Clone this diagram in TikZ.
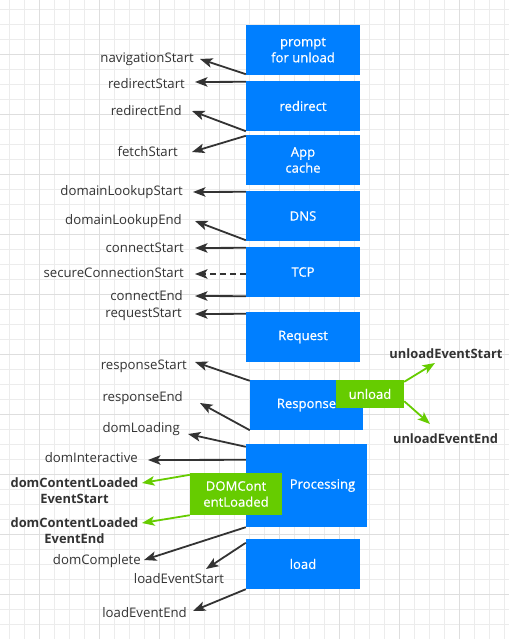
\documentclass[tikz,border=0pt]{standalone}
\usepackage{fontspec}
\setmainfont{Open Sans}
\newfontfamily\boxfont[FakeBold=0.6]{Open Sans}
\usetikzlibrary{arrows.meta,calc}
\definecolor{boxblue}{RGB}{0,127,255}
\definecolor{boxgreen}{RGB}{102,204,0}
\definecolor{arrgray}{RGB}{51,51,51}
\definecolor{txtgray}{RGB}{51,51,51}
\definecolor{gridminor}{RGB}{236,236,236}
\definecolor{gridmajor}{RGB}{222,222,222}
\tikzset{
  phase/.style={fill=boxblue, draw=none, text=white, font=\boxfont\fontsize{13.1}{16}\selectfont,
    align=center, inner sep=0pt, minimum width=114pt, minimum height=50pt},
  gphase/.style={fill=boxgreen, draw=none, text=white, font=\boxfont\fontsize{13.1}{16}\selectfont,
    align=center, inner sep=0pt},
  lbl/.style={font=\fontsize{13.2}{15}\selectfont, text=txtgray, inner sep=0pt, anchor=east},
  blbl/.style={font=\bfseries\fontsize{12.9}{16}\selectfont, text=txtgray, inner sep=0pt, align=center},
  arr/.style={draw=arrgray, line width=1.8pt, -{Stealth[length=12.5pt,width=9.5pt,inset=3pt]}},
  garr/.style={draw=boxgreen, line width=1.8pt, -{Stealth[length=12.5pt,width=9.5pt,inset=3pt]}},
}
\begin{document}
\begin{tikzpicture}[x=1pt,y=-1pt]
\useasboundingbox (0,0) rectangle (509,639);
\fill[white] (0,0) rectangle (509,639);
% grid
\foreach \i in {0,...,33} {
  \pgfmathsetmacro\xx{9.3+15*\i}
  \draw[gridminor, line width=0.8pt] (\xx,0) -- (\xx,639);
}
\foreach \i in {0,...,42} {
  \pgfmathsetmacro\yy{9.3+15*\i}
  \draw[gridminor, line width=0.8pt] (0,\yy) -- (509,\yy);
}
\foreach \i in {0,...,7} {
  \pgfmathsetmacro\xx{39.3+60*\i}
  \draw[gridmajor, line width=0.9pt] (\xx,0) -- (\xx,639);
}
\foreach \i in {0,...,9} {
  \pgfmathsetmacro\yy{54.3+60*\i}
  \draw[gridmajor, line width=0.9pt] (0,\yy) -- (509,\yy);
}
% phases
\node[phase] (prompt) at (303,50) {prompt\\for unload};
\node[phase] (redirect) at (303,106) {redirect};
\node[phase] (appcache) at (303,160) {App\\cache};
\node[phase] (dns) at (303,216) {DNS};
\node[phase] (tcp) at (303,272) {TCP};
\node[phase] (request) at (303,337) {Request};
\node[phase, minimum width=113pt] (response) at (306.5,405) {Response};
\node[phase, minimum width=121pt, minimum height=83pt] (processing) at (306.5,485.5) {\hspace*{32pt}Processing};
\node[phase] (load) at (303,564) {load};
\node[gphase, minimum width=68pt, minimum height=28pt] (unload) at (370,394) {unload};
\node[gphase, minimum width=92pt, minimum height=42pt] (domcl) at (236,494) {DOMCont\\entLoaded};
% labels
\node[lbl] (navStart) at (194,59) {navigationStart};
\node[lbl] (redStart) at (185,84) {redirectStart};
\node[lbl] (redEnd) at (182,111) {redirectEnd};
\node[lbl] (fetch) at (178,152) {fetchStart};
\node[lbl] (dlStart) at (183,192) {domainLookupStart};
\node[lbl] (dlEnd) at (182,221) {domainLookupEnd};
\node[lbl] (cStart) at (184,248) {connectStart};
\node[lbl] (secure) at (184,273) {secureConnectionStart};
\node[lbl] (cEnd) at (183,296) {connectEnd};
\node[lbl] (reqStart) at (182,314) {requestStart};
\node[lbl] (respStart) at (187,366) {responseStart};
\node[lbl] (respEnd) at (183,398) {responseEnd};
\node[lbl] (domLoad) at (180,429) {domLoading};
\node[lbl] (domInt) at (138,458) {domInteractive};
\node[blbl] (dclStart) at (74.5,491) {domContentLoaded\\EventStart};
\node[blbl] (dclEnd) at (74.5,531) {domContentLoaded\\EventEnd};
\node[lbl] (domComp) at (141,561) {domComplete};
\node[lbl, anchor=center] (leStart) at (179,579) {loadEventStart};
\node[lbl] (leEnd) at (187,613) {loadEventEnd};
\node[blbl] (ueStart) at (446,354) {unloadEventStart};
\node[blbl] (ueEnd) at (445.5,439) {unloadEventEnd};
% tips
\coordinate (tNav) at (200,59);
\coordinate (tRedS) at (195,82);
\coordinate (tRedE) at (192,111);
\coordinate (tFetch) at (192,152);
\coordinate (tDlS) at (193,192);
\coordinate (tDlE) at (195,221);
\coordinate (tCS) at (195,248);
\coordinate (tSec) at (195,274);
\coordinate (tCE) at (195,296);
\coordinate (tReq) at (195,314);
\coordinate (tRespS) at (195,362);
\coordinate (tRespE) at (200,403);
\coordinate (tDomL) at (188,434);
\coordinate (tDomI) at (148,460);
\coordinate (tDclS) at (142,483);
\coordinate (tDclE) at (142,523);
\coordinate (tDomC) at (144,560);
\coordinate (tLeS) at (206,569);
\coordinate (tLeE) at (193,611);
\coordinate (tUeS) at (435,363);
\coordinate (tUeE) at (430,424);
% arrows
\draw[arr] ([yshift=1pt]prompt.south west) -- (tNav);
\draw[arr] ([yshift=-1pt]redirect.north west) -- (tRedS);
\draw[arr] (redirect.south west) -- (tRedE);
\draw[arr] ([yshift=-1pt]appcache.north west) -- (tFetch);
\draw[arr] ([yshift=-1pt]dns.north west) -- (tDlS);
\draw[arr] ([yshift=1pt]dns.south west) -- (tDlE);
\draw[arr] ([yshift=-1pt]tcp.north west) -- (tCS);
\draw[arr, dash pattern=on 6pt off 4pt] ([yshift=-2pt]tcp.west) -- (tSec);
\draw[arr] ([yshift=1pt]tcp.south west) -- (tCE);
\draw[arr] ([yshift=-2pt]request.north west) -- (tReq);
\draw[arr] ([yshift=-1pt]response.north west) -- (tRespS);
\draw[arr] (response.south west) -- (tRespE);
\draw[arr] ([yshift=-3pt]processing.north west) -- (tDomL);
\draw[arr] ([yshift=-16pt]processing.north west) -- (tDomI);
\draw[garr] ([yshift=-2pt]domcl.north west) -- (tDclS);
\draw[garr] (domcl.south west) -- (tDclE);
\draw[arr] (processing.south west) -- (tDomC);
\draw[arr] ([yshift=-4pt]load.north west) -- (tLeS);
\draw[arr] (load.south west) -- (tLeE);
\draw[garr] ([yshift=-2pt]unload.north east) -- (tUeS);
\draw[garr] ([yshift=7pt]unload.south east) -- (tUeE);
\end{tikzpicture}
\end{document}
